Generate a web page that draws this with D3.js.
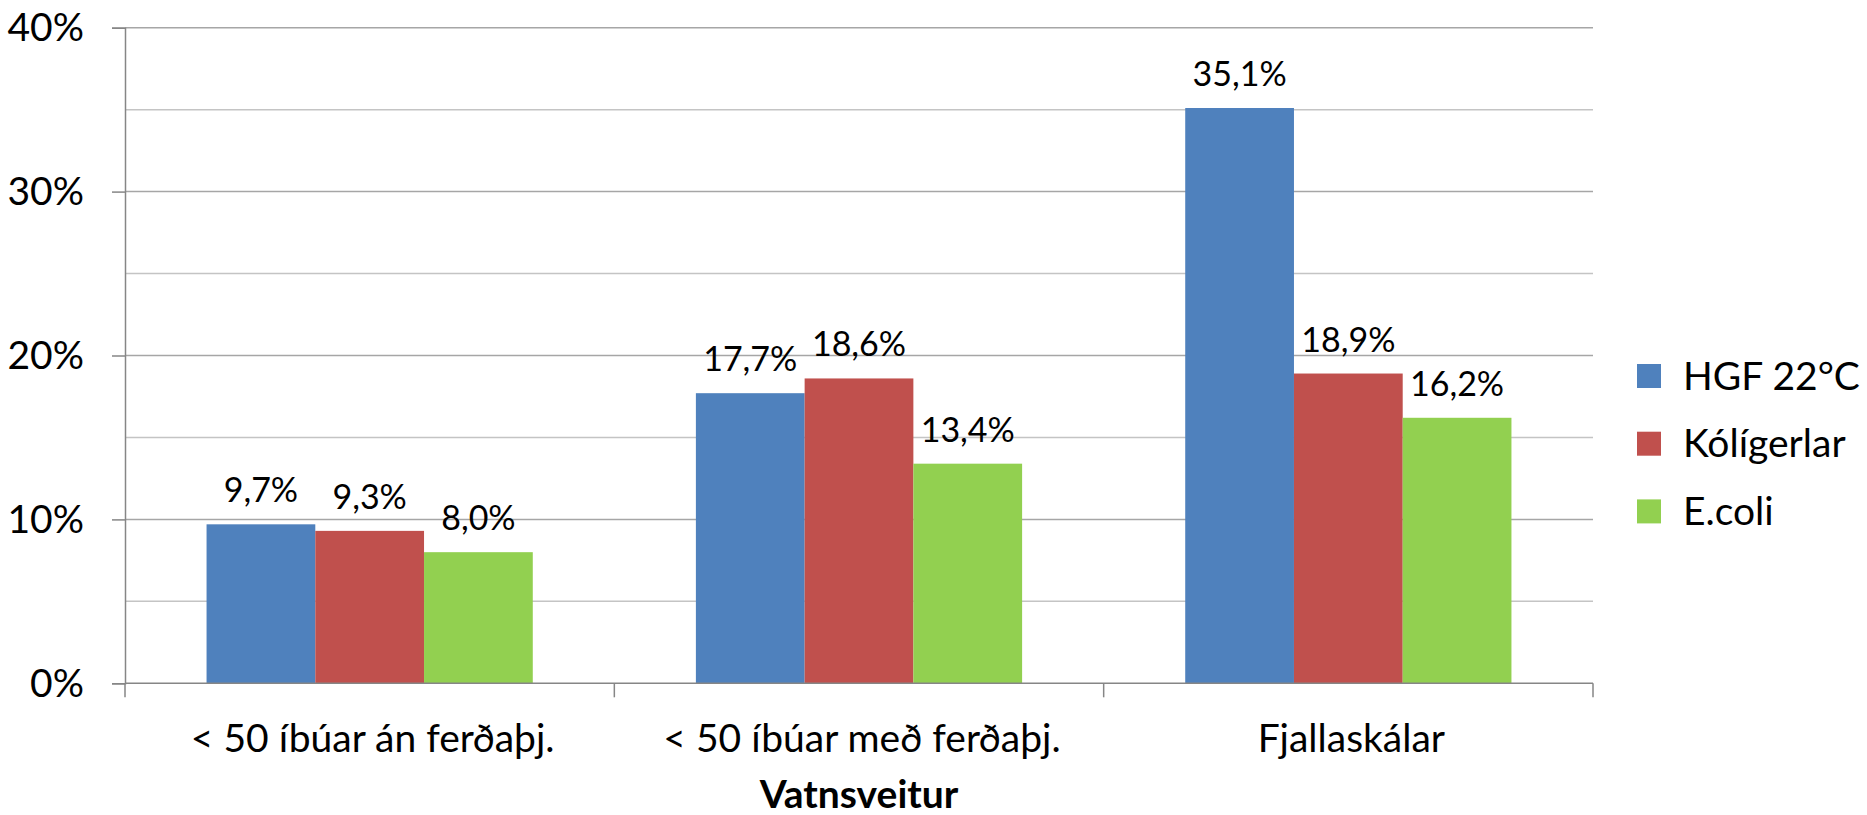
<!DOCTYPE html>
<html lang="is">
<head>
<meta charset="UTF-8">
<title>Vatnsveitur</title>
<style>
  body { margin: 0; background: #fff; }
  text { font-family: Lato, "Open Sans", sans-serif; fill: #000; }
</style>
</head>
<body>
<svg id="main" width="1867" height="815"></svg>
<script src="https://cdn.jsdelivr.net/npm/d3@7/dist/d3.min.js"></script>
<script>
var categories = ["< 50 íbúar án ferðaþj.", "< 50 íbúar með ferðaþj.", "Fjallaskálar"];
var seriesNames = ["HGF 22°C", "Kólígerlar", "E.coli"];
var hgf = [9.7, 17.7, 35.1];
var koli = [9.3, 18.6, 18.9];
var ecoli = [8.0, 13.4, 16.2];
var yTicks = [0, 10, 20, 30, 40];
var colors = ["#4F81BD", "#C0504D", "#92D050"];

var values = [hgf, koli, ecoli];
var svg = d3.select("#main");

var plotLeft = 125, plotRight = 1593, plotTop = 27.7, plotBottom = 683.3;

var x = d3.scaleBand().domain(categories).range([plotLeft, plotRight]);
var xs = d3.scaleBand().domain(seriesNames)
    .range([0, x.bandwidth()])
    .paddingInner(0).paddingOuter(0.75);
var y = d3.scaleLinear().domain([0, 40]).range([plotBottom, plotTop]);

// gridlines, every 5%
var grid = d3.range(5, 41, 5);
svg.append("g").selectAll("line").data(grid).enter().append("line")
    .attr("x1", plotLeft).attr("x2", plotRight)
    .attr("y1", function(d) { return y(d); })
    .attr("y2", function(d) { return y(d); })
    .attr("stroke", function(d) { return d % 10 == 0 ? "#a6a6a6" : "#c4c4c4"; })
    .attr("stroke-width", 1.5);

// y axis
var yAxis = d3.axisLeft(y).tickValues(yTicks).tickSize(13)
    .tickFormat(function(d) { return d + "%"; });
var ya = svg.append("g").attr("transform", "translate(" + plotLeft + ",0)").call(yAxis);
ya.select(".domain").attr("stroke", "#868686").attr("stroke-width", 1.5);
ya.selectAll(".tick line").attr("stroke", "#868686").attr("stroke-width", 1.5);
ya.selectAll(".tick text")
    .attr("x", -41).attr("dy", "0.33em")
    .style("font-size", "39px").style("font-family", "Lato, 'Open Sans', sans-serif")
    .attr("fill", "#000");

// bars
var groups = svg.append("g").selectAll("g").data(categories).enter().append("g")
    .attr("transform", function(d) { return "translate(" + x(d) + ",0)"; });

groups.each(function(cat, ci) {
    var g = d3.select(this);
    seriesNames.forEach(function(s, si) {
        var v = values[si][ci];
        g.append("rect")
            .attr("x", xs(s))
            .attr("width", xs.bandwidth())
            .attr("y", y(v))
            .attr("height", plotBottom - y(v))
            .attr("fill", colors[si]);
        g.append("text")
            .attr("x", xs(s) + xs.bandwidth() / 2)
            .attr("y", y(v) - 22)
            .attr("text-anchor", "middle")
            .style("font-size", "34px")
            .text(d3.format(".1f")(v).replace(".", ",") + "%");
    });
});

// x axis
var xa = svg.append("g").attr("transform", "translate(0," + plotBottom + ")");
xa.append("line").attr("x1", plotLeft).attr("x2", plotRight)
    .attr("stroke", "#868686").attr("stroke-width", 1.5);
var bounds = [plotLeft].concat(categories.map(function(c) { return x(c) + x.bandwidth(); }));
xa.selectAll("line.tk").data(bounds).enter().append("line")
    .attr("class", "tk")
    .attr("x1", function(d) { return d; }).attr("x2", function(d) { return d; })
    .attr("y1", 0).attr("y2", 14)
    .attr("stroke", "#868686").attr("stroke-width", 1.5);
xa.selectAll("text").data(categories).enter().append("text")
    .attr("x", function(d) { return x(d) + x.bandwidth() / 2 + 3; })
    .attr("y", 68.5)
    .attr("text-anchor", "middle")
    .style("font-size", "39px")
    .text(function(d) { return d; });

svg.append("text")
    .attr("x", (plotLeft + plotRight) / 2)
    .attr("y", 808)
    .attr("text-anchor", "middle")
    .style("font-size", "39px")
    .style("font-weight", "bold")
    .text("Vatnsveitur");

// legend
var legend = svg.append("g").attr("transform", "translate(1637,364)");
var li = legend.selectAll("g").data(seriesNames).enter().append("g")
    .attr("transform", function(d, i) { return "translate(0," + i * 67.7 + ")"; });
li.append("rect").attr("width", 24).attr("height", 24)
    .attr("fill", function(d, i) { return colors[i]; });
li.append("text").attr("x", 46).attr("y", 25.5)
    .style("font-size", "39px")
    .text(function(d) { return d; });
</script>
</body>
</html>
